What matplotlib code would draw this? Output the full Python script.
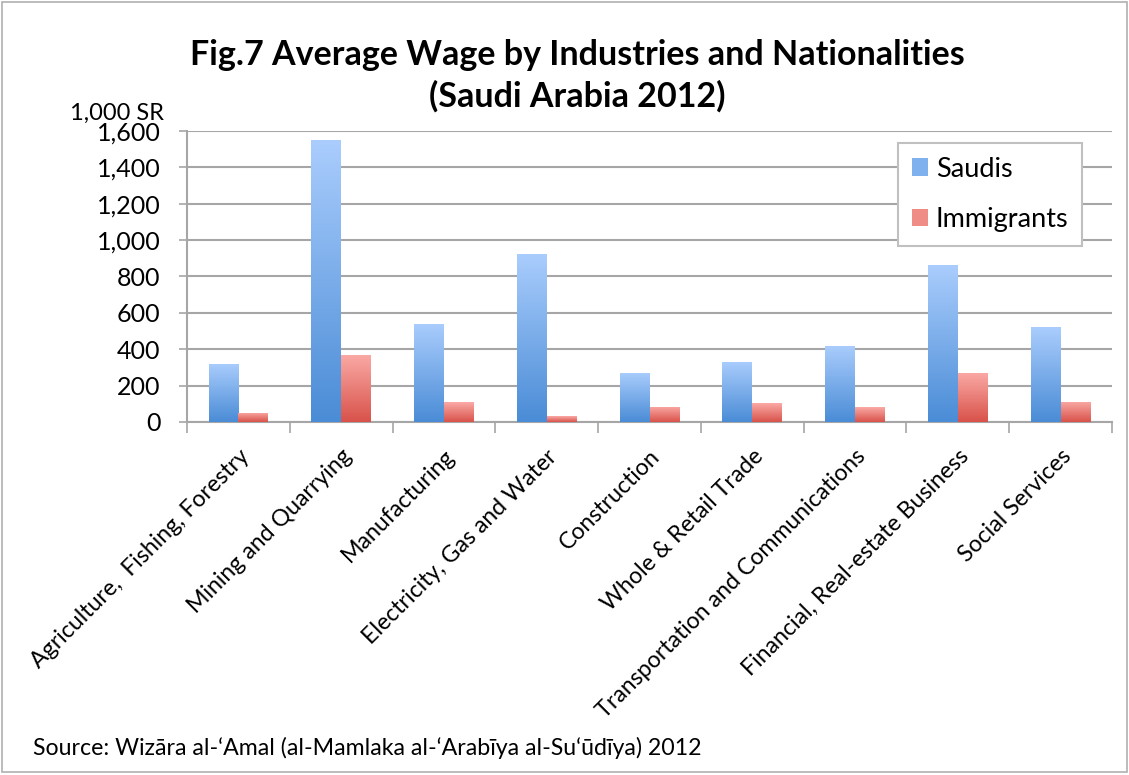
import numpy as np
import matplotlib.pyplot as plt
import matplotlib.transforms as mtransforms
from matplotlib.colors import LinearSegmentedColormap
from matplotlib.patches import Rectangle

plt.rcParams['font.family'] = ['Lato', 'DejaVu Sans']

industries = ['Agriculture,  Fishing, Forestry', 'Mining and Quarrying', 'Manufacturing',
              'Electricity, Gas and Water', 'Construction', 'Whole & Retail Trade',
              'Transportation and Communications', 'Financial, Real-estate Business',
              'Social Services']
saudis = [320, 1550, 540, 925, 272, 332, 420, 862, 520]
immigrants = [50, 370, 108, 32, 84, 103, 81, 270, 110]

grid_col = '#a6a6a6'

fig = plt.figure(figsize=(11.29, 7.75), dpi=100)
ax = fig.add_axes([0.1656, 0.4555, 0.8194, 0.3755])

x = np.arange(len(industries))
w = 0.29

cmap_blue = LinearSegmentedColormap.from_list('b', ['#4a8cd6', '#aacdfd'])
cmap_red = LinearSegmentedColormap.from_list('r', ['#d8524a', '#fbaaa6'])

def gradient_bars(bars, cmap):
    # fill each bar with a vertical gradient, clipped to the bar shape
    grad = np.linspace(0, 1, 256).reshape(-1, 1)
    for b in bars:
        x0, y0 = b.get_x(), b.get_y()
        x1, y1 = x0 + b.get_width(), y0 + b.get_height()
        im = ax.imshow(grad, cmap=cmap, origin='lower', aspect='auto',
                       extent=(x0, x1, y0, y1), zorder=3)
        im.set_clip_path(b)
        b.set_facecolor('none')

b1 = ax.bar(x - w / 2, saudis, w, color='#6fa4e8', label='Saudis', zorder=3, linewidth=0)
b2 = ax.bar(x + w / 2, immigrants, w, color='#ec7c76', label='Immigrants', zorder=3, linewidth=0)
gradient_bars(b1, cmap_blue)
gradient_bars(b2, cmap_red)

ax.set_xlim(-0.5, len(industries) - 0.5)
ax.set_ylim(0, 1600)
ax.set_yticks(np.arange(0, 1601, 200))
ax.set_yticklabels([f'{v:,}' for v in range(0, 1601, 200)], fontsize=18)
ax.yaxis.grid(True, color=grid_col, linewidth=1.5, zorder=0)
ax.set_axisbelow(True)

ax.set_xticks(x)
ax.set_xticklabels(industries, rotation=45, ha='right', rotation_mode='anchor', fontsize=16.7)
shift = mtransforms.ScaledTranslation(-15 / 100, 0, fig.dpi_scale_trans)
for lbl in ax.get_xticklabels():
    lbl.set_transform(lbl.get_transform() + shift)
ax.set_xticks(np.arange(-0.5, len(industries)), minor=True)
ax.tick_params(axis='x', which='major', length=0, pad=17)
ax.tick_params(axis='x', which='minor', length=8, width=1.2, color=grid_col)
ax.tick_params(axis='y', length=6, width=1.2, color=grid_col, pad=13)

for s in ['top', 'right']:
    ax.spines[s].set_visible(False)
for s in ['left', 'bottom']:
    ax.spines[s].set_color(grid_col)
    ax.spines[s].set_linewidth(1.5)

leg = ax.legend(handles=[Rectangle((0, 0), 1, 1, facecolor='#7fb1ee'),
                         Rectangle((0, 0), 1, 1, facecolor='#f08c86')],
                labels=['Saudis', 'Immigrants'],
                loc='upper right', bbox_to_anchor=(0.9676, 0.9588), fontsize=19.5,
                handlelength=0.6, handleheight=0.6, handletextpad=0.3,
                labelspacing=0.95, borderpad=0.5, borderaxespad=0,
                fancybox=False, framealpha=1)
leg.get_frame().set_edgecolor('#c0c0c0')
leg.get_frame().set_linewidth(1.5)

ax.text(-0.1265, 1.025, '1,000 SR', transform=ax.transAxes, fontsize=17, ha='left', va='bottom')

fig.text(0.5115, 0.902, 'Fig.7 Average Wage by Industries and Nationalities\n(Saudi Arabia 2012)',
         ha='center', va='center', fontsize=24.5, fontweight='bold', linespacing=1.33)

fig.text(33 / 1129, 1 - 748 / 775, 'Source: Wizāra al-‘Amal (al-Mamlaka al-‘Arabīya al-Su‘ūdīya) 2012',
         ha='left', va='center', fontsize=16.7)

fig.patches.append(Rectangle((0.002, 0.004), 0.996, 0.993, transform=fig.transFigure,
                             fill=False, edgecolor='#b0b0b0', linewidth=1.2))

fig.savefig('out.png', dpi=100)
